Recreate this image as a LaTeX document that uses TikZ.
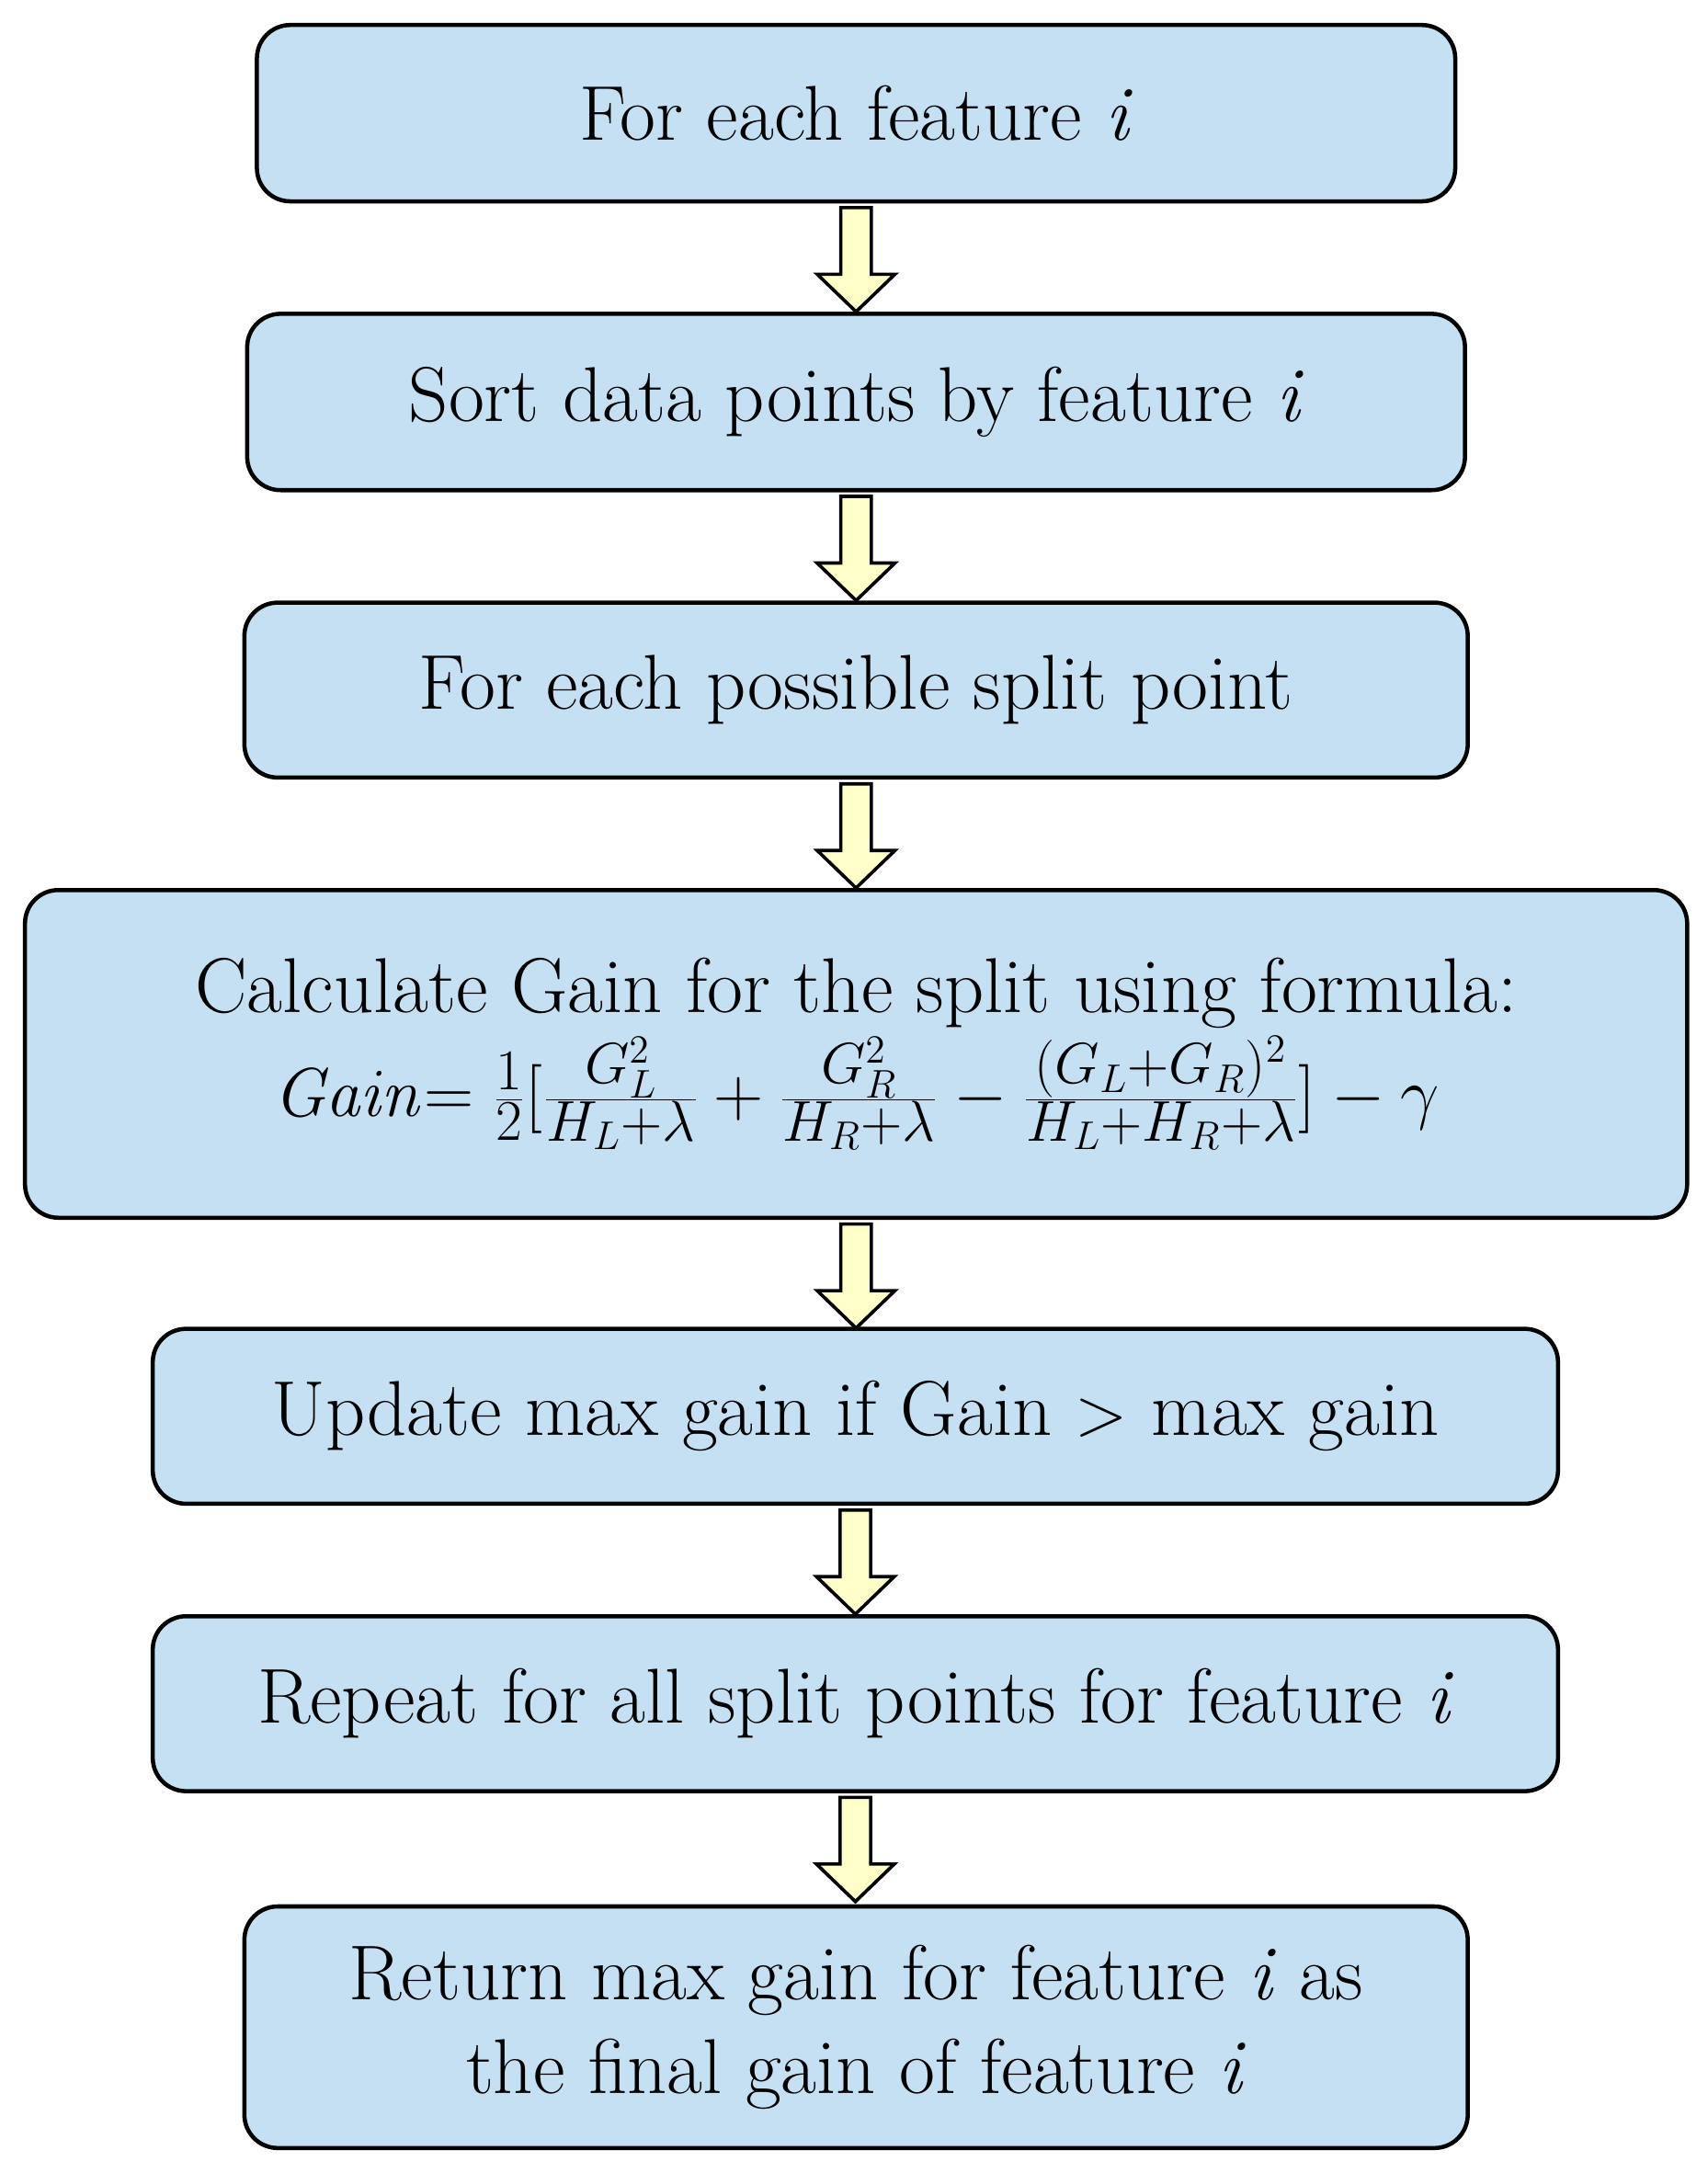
\documentclass[tikz,border=0pt]{standalone}
\definecolor{boxblue}{HTML}{C5DFF3}
\definecolor{arrowyellow}{HTML}{FFFFC8}
\begin{document}
\begin{tikzpicture}[x=1pt,y=1pt,
  box/.style={draw=black,line width=1.5pt,fill=boxblue,rounded corners=12pt,
    inner sep=0pt,align=center,font=\fontsize{28}{34}\selectfont},
  barr/.style={draw=black,line width=1.2pt,fill=arrowyellow,line join=miter}]
\useasboundingbox (0,0) rectangle (615,-782.5);
\newcommand\blockarr[1]{\draw[barr,shift={(#1.south)}] (-5.5,-1.5) -- (-5.5,-25.5) -- (-14,-25.5) -- (0,-39) -- (14,-25.5) -- (5.5,-25.5) -- (5.5,-1.5) -- cycle;}
\node[box,minimum width=431.5pt,minimum height=63.5pt] (a) at (308.25,-40.75) {For each feature \textit{i}};
\node[box,minimum width=438.5pt,minimum height=63.5pt] (b) at (308.25,-144.75) {Sort data points by feature \textit{i}};
\node[box,minimum width=440.5pt,minimum height=63pt] (c) at (308.25,-248.5) {For each possible split point};
\node[box,minimum width=598.5pt,minimum height=118pt] (d) at (308.25,-379.5) {Calculate Gain for the split using formula:\\[2pt]
  $\mathit{Gain}{=}\;\frac{1}{2}\Big[\frac{G_L^2}{H_L+\lambda}+\frac{G_R^2}{H_R+\lambda}-\frac{(G_L+G_R)^2}{H_L+H_R+\lambda}\Big]-\gamma$};
\node[box,minimum width=506pt,minimum height=63pt] (e) at (308,-510) {Update max gain if Gain $>$ max gain};
\node[box,minimum width=506pt,minimum height=63pt] (f) at (308,-613.5) {Repeat for all split points for feature \textit{i}};
\node[box,minimum width=440.5pt,minimum height=87pt] (g) at (308.25,-730) {Return max gain for feature \textit{i} as\\the final gain of feature \textit{i}};
\blockarr{a}
\blockarr{b}
\blockarr{c}
\blockarr{d}
\blockarr{e}
\blockarr{f}
\end{tikzpicture}
\end{document}
